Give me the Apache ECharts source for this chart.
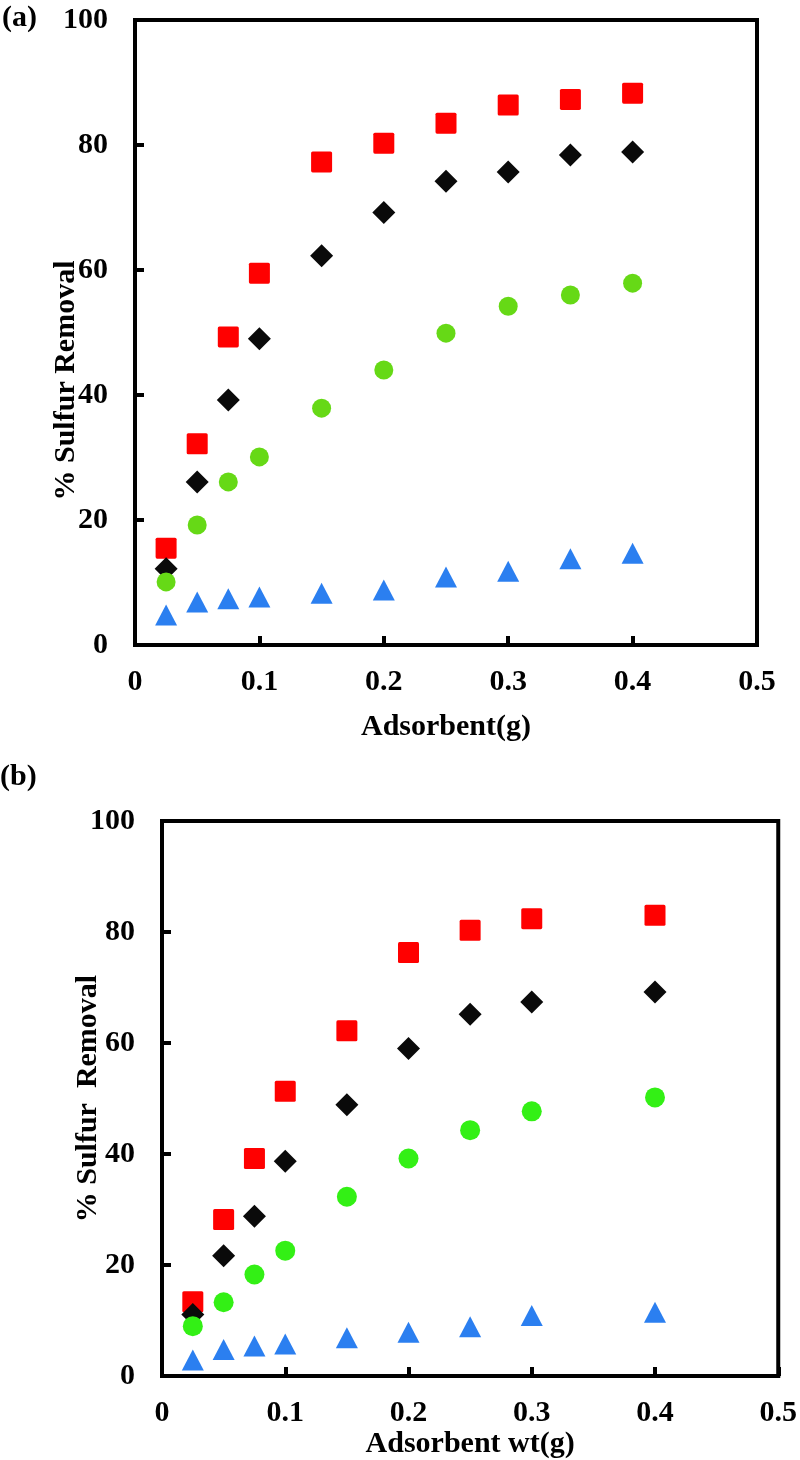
<!DOCTYPE html>
<html>
<head>
<meta charset="utf-8">
<script src="https://cdn.jsdelivr.net/npm/echarts@6/dist/echarts.min.js"></script>
<style>
  html, body { margin: 0; padding: 0; background: #fff; }
  #chart { width: 800px; height: 1460px; }
</style>
</head>
<body>
<div id="chart"></div>
<script>
// ---- Data ----
const xA = [0.025, 0.05, 0.075, 0.1, 0.15, 0.2, 0.25, 0.3, 0.35, 0.4];
const redA   = [15.5, 32.2, 49.3, 59.5, 77.3, 80.3, 83.5, 86.4, 87.3, 88.3];
const blackA = [12.2, 26.1, 39.2, 49.0, 62.3, 69.2, 74.2, 75.7, 78.4, 78.9];
const greenA = [10.1, 19.2, 26.1, 30.1, 37.9, 44.0, 49.9, 54.2, 56.0, 57.9];
const blueA  = [4.8, 6.9, 7.4, 7.7, 8.3, 8.8, 10.9, 11.8, 13.8, 14.7];

const xB = [0.025, 0.05, 0.075, 0.1, 0.15, 0.2, 0.25, 0.3, 0.4];
const redB   = [13.4, 28.2, 39.2, 51.3, 62.2, 76.3, 80.3, 82.4, 83.0];
const blackB = [11.1, 21.7, 28.8, 38.7, 48.9, 59.0, 65.2, 67.4, 69.2];
const greenB = [9.0, 13.3, 18.3, 22.6, 32.3, 39.2, 44.3, 47.7, 50.2];
const blueB  = [2.9, 4.8, 5.4, 5.8, 6.9, 7.9, 8.9, 10.9, 11.5];

const yTicks = { min: 0, max: 100, interval: 20 };
const xTicks = { min: 0, max: 0.5, interval: 0.1 };

const xTitleA = 'Adsorbent(g)';
const xTitleB = 'Adsorbent wt(g)';
const yTitleA = '% Sulfur Removal';
const yTitleB = '% Sulfur  Removal';

// ---- Helpers ----
const FONT = '"Liberation Serif", "Times New Roman", serif';
const SQUARE = 'path://M1.5,0 H18.5 Q20,0 20,1.5 V18.5 Q20,20 18.5,20 H1.5 Q0,20 0,18.5 V1.5 Q0,0 1.5,0 Z';
const pair = (xs, ys) => xs.map((x, i) => [x, ys[i]]);

function xAxisCfg(idx, name, gap) {
  return {
    type: 'value', gridIndex: idx, min: xTicks.min, max: xTicks.max, interval: xTicks.interval,
    name: name, nameLocation: 'middle', nameGap: gap,
    nameTextStyle: { fontFamily: FONT, fontWeight: 'bold', fontSize: 30, color: '#000' },
    axisLine: { show: true, onZero: false, lineStyle: { color: '#000', width: 4 } },
    axisTick: { show: true, inside: true, length: 9, lineStyle: { color: '#000', width: 4 } },
    axisLabel: { fontFamily: FONT, fontWeight: 'bold', fontSize: 30, color: '#000', margin: 22 },
    splitLine: { show: false }
  };
}
function yAxisCfg(idx, name, gap, pad) {
  return {
    type: 'value', gridIndex: idx, min: yTicks.min, max: yTicks.max, interval: yTicks.interval,
    name: name, nameLocation: 'middle', nameGap: gap, nameRotate: 90, nameMoveOverlap: false,
    nameTextStyle: { fontFamily: FONT, fontWeight: 'bold', fontSize: 30, color: '#000', padding: pad },
    axisLine: { show: true, onZero: false, lineStyle: { color: '#000', width: 4 } },
    axisTick: { show: true, inside: true, length: 9, lineStyle: { color: '#000', width: 4 } },
    axisLabel: { fontFamily: FONT, fontWeight: 'bold', fontSize: 30, color: '#000', margin: 27 },
    splitLine: { show: false }
  };
}
function sc(idx, data, symbol, size, color) {
  return {
    type: 'scatter', xAxisIndex: idx, yAxisIndex: idx, data: data,
    symbol: symbol, symbolSize: size,
    itemStyle: { color: color, opacity: 1 },
    emphasis: { disabled: true }, animation: false
  };
}

const chart = echarts.init(document.getElementById('chart'), null, { renderer: 'canvas' });
chart.setOption({
  backgroundColor: '#fff',
  animation: false,
  title: [
    { text: '(a)', left: 2, top: 3, padding: 0, textStyle: { fontFamily: FONT, fontWeight: 'bold', fontSize: 30, color: '#000' } },
    { text: '(b)', left: 0, top: 762, padding: 0, textStyle: { fontFamily: FONT, fontWeight: 'bold', fontSize: 30, color: '#000' } }
  ],
  grid: [
    { left: 135, top: 20, width: 622, height: 625, show: true, borderColor: '#000', borderWidth: 4, backgroundColor: 'transparent', containLabel: false },
    { left: 162, top: 821, width: 620, height: 558, show: true, borderColor: '#000', borderWidth: 4, backgroundColor: 'transparent', containLabel: false }
  ],
  xAxis: [ xAxisCfg(0, xTitleA, 67), xAxisCfg(1, xTitleB, 49) ],
  yAxis: [ yAxisCfg(0, yTitleA, 54, [0, 96, 0, 0]), yAxisCfg(1, yTitleB, 59, 0) ],
  series: [
    sc(0, pair(xA, redA), SQUARE, 21, '#ff0000'),
    sc(0, pair(xA, blackA), 'diamond', 23, '#0a0a0a'),
    sc(0, pair(xA, greenA), 'circle', 19, '#66d916'),
    sc(0, pair(xA, blueA), 'triangle', [22, 21], '#2b7ff0'),
    sc(1, pair(xB, redB), SQUARE, 21, '#ff0000'),
    sc(1, pair(xB, blackB), 'diamond', 23, '#0a0a0a'),
    sc(1, pair(xB, greenB), 'circle', 20, '#33f015'),
    sc(1, pair(xB, blueB), 'triangle', [22, 21], '#2b7ff0')
  ]
});
</script>
</body>
</html>
